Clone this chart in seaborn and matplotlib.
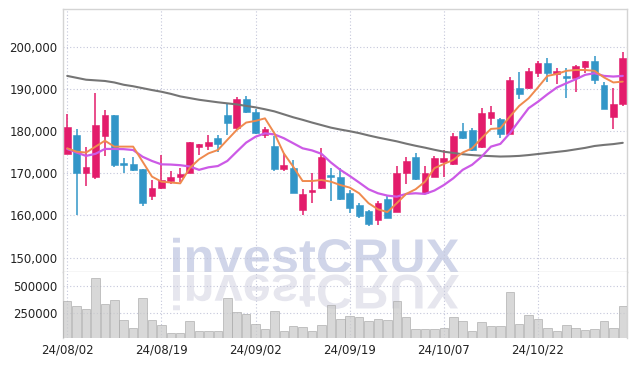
import numpy as np
import matplotlib
matplotlib.use("Agg")
import matplotlib.pyplot as plt
import seaborn as sns
from matplotlib.textpath import TextPath
from matplotlib.patches import PathPatch
from matplotlib.font_manager import FontProperties
from matplotlib.transforms import Affine2D

# daily candles, 24/08/02 .. 24/11/04 (60 trading days)
opens = [174500, 179000, 170100, 169000, 178700, 183800, 172400, 172200, 171000, 164700,
         166600, 168200, 169000, 170100, 176300, 176500, 178300, 183800, 180600, 187600,
         184400, 179000, 176400, 171000, 171200, 161300, 165500, 166400, 169600, 169100,
         165400, 162500, 161100, 158900, 164000, 160900, 170000, 173900, 165400, 169200,
         172700, 172100, 180000, 180200, 176300, 183000, 182800, 179400, 190300, 190300,
         193700, 196200, 193600, 193000, 192600, 195200, 196600, 190900, 183400, 186400]
highs = [184000, 180400, 176300, 189100, 185000, 183800, 173500, 173800, 171000, 168400,
         174200, 170600, 171200, 177500, 176900, 179100, 179000, 186300, 188000, 188400,
         185200, 181000, 178800, 174800, 173100, 166300, 170000, 175900, 171200, 171200,
         166000, 163000, 161300, 163400, 164700, 171800, 173900, 174800, 171600, 174100,
         175500, 179500, 182000, 180800, 185400, 185900, 183000, 192700, 193900, 194900,
         196600, 197300, 194900, 194900, 195600, 196600, 197800, 191700, 190300, 198800]
lows = [174500, 160000, 167000, 168600, 174100, 171500, 170000, 170600, 162200, 163600,
        166200, 167400, 168000, 170000, 174200, 175500, 175100, 179000, 180200, 184200,
        179400, 178300, 170600, 170600, 165300, 160100, 162900, 166300, 163400, 163700,
        160500, 159300, 157600, 157700, 159300, 160800, 167500, 168400, 165200, 169000,
        169000, 171900, 178000, 175300, 175900, 181400, 178400, 179200, 187600, 189900,
        192700, 191500, 191100, 187700, 189200, 193800, 191100, 185100, 180400, 185900]
closes = [181000, 170000, 171500, 181500, 183800, 172000, 172000, 170800, 163000, 166500,
          168400, 169100, 169900, 177400, 176900, 177400, 176900, 182000, 187600, 184400,
          179600, 180400, 171000, 171900, 165300, 165100, 166000, 173900, 169000, 163900,
          161700, 159900, 158000, 162900, 159500, 170000, 172800, 168700, 170000, 173500,
          173500, 178800, 178400, 175500, 184200, 184400, 179400, 192100, 188700, 194200,
          196200, 193700, 194100, 192600, 195400, 196600, 192100, 185200, 186500, 197400]
volumes = [362600, 316800, 289400, 570500, 335000, 369000, 195000, 121800, 387400, 195000,
           149200, 76000, 76000, 185900, 87900, 94300, 87900, 387400, 261900, 243600,
           158400, 112600, 268300, 87900, 140100, 131000, 87900, 149200, 326000, 204200,
           225300, 213400, 179500, 204200, 188600, 362600, 213400, 106200, 112600, 112600,
           121800, 213400, 179500, 94300, 176500, 140100, 140100, 442300, 158400, 234400,
           204200, 121800, 94300, 149200, 121800, 103500, 112600, 185900, 121800, 316800]

# moving averages
ma_short = [175900, 175100, 174900, 176300, 177700, 176300, 176300, 176300, 172750, 169200,
            168000, 167800, 167600, 171200, 173300, 174700, 175500, 177900, 180250, 182000,
            182400, 183000, 179450, 174700, 171550, 168150, 168150, 168400, 168000, 167200,
            166600, 165250, 162900, 161450, 160800, 162900, 165100, 166200, 168000, 171200,
            172200, 173150, 174900, 175900, 178300, 180500, 180650, 183400, 185950, 187750,
            190350, 193050, 193500, 194250, 194450, 194450, 194250, 192700, 191500, 191700]
ma_mid = [175750, 174900, 174100, 174600, 175750, 175750, 175700, 175500, 173900, 172900,
          172100, 172050, 171900, 171600, 170800, 171400, 171700, 172900, 175100, 177250,
          178650, 179450, 179200, 178300, 177100, 175900, 175400, 174600, 172550, 170800,
          169350, 167800, 166200, 165250, 164700, 164450, 165100, 165250, 165100, 165900,
          167200, 168800, 170800, 172000, 173900, 176300, 176950, 179450, 182450, 185400,
          186950, 188700, 190300, 191300, 192250, 193300, 193700, 193050, 192900, 193050]
ma_long = [193050, 192600, 192150, 192000, 191850, 191500, 190950, 190600, 190150, 189700,
           189300, 188800, 188200, 187800, 187400, 187100, 186800, 186550, 186300, 185950,
           185600, 185150, 184650, 183950, 183250, 182650, 182000, 181400, 180800, 180350,
           179950, 179500, 178950, 178450, 178000, 177550, 177000, 176500, 176050, 175550,
           175100, 174800, 174500, 174300, 174150, 174050, 173950, 174000, 174100, 174300,
           174550, 174800, 175050, 175300, 175650, 176000, 176450, 176700, 176900, 177200]

date_ticks = [0, 10, 20, 30, 40, 50]
date_labels = ["24/08/02", "24/08/19", "24/09/02", "24/09/19", "24/10/07", "24/10/22"]
price_ticks = [150000, 160000, 170000, 180000, 190000, 200000]
vol_ticks = [250000, 500000]

UP = "#e31c6b"
DOWN = "#3296c8"
GRID = "#c4c6da"

sns.set_style("white")
plt.rcParams["font.family"] = ["DejaVu Sans"]

fig = plt.figure(figsize=(6.36, 3.66), dpi=100)
ax = fig.add_axes([63 / 636, 94 / 366, 564 / 636, 263 / 366])
axv = fig.add_axes([63 / 636, 28 / 366, 564 / 636, 66 / 366], sharex=ax)

idx = np.arange(len(opens))

# watermark and its reflection
fp = FontProperties(family="Liberation Sans", weight="bold")
tp = TextPath((0, 0), "investCRUX", size=100, prop=fp)
bb = tp.get_extents()
s = 286 / bb.width
x0 = 173 - bb.x0 * s
base = 366 - 273
wm = PathPatch(tp, facecolor="#d0d5e9", edgecolor="none", zorder=0.5, clip_on=False)
wm.set_transform(Affine2D().scale(s, s * 0.96).translate(x0, base))
ax.add_patch(wm)
rf = PathPatch(tp, facecolor="#e6e6ee", edgecolor="none", zorder=0.5)
rf.set_transform(Affine2D().scale(s, -s * 0.96).translate(x0, base - 2))
axv.add_patch(rf)

# candles
for i in idx:
    o, h, l, c = opens[i], highs[i], lows[i], closes[i]
    col = UP if c >= o else DOWN
    ax.vlines(i, l, h, color=col, linewidth=1.1, zorder=3)
    lo, hi = min(o, c), max(o, c)
    ax.bar(i, max(hi - lo, 300), bottom=lo, width=0.72, color=col,
           edgecolor=col, linewidth=0.4, zorder=4)

sns.lineplot(x=idx, y=ma_long, ax=ax, color="#757575", linewidth=1.5, zorder=5)
sns.lineplot(x=idx, y=ma_mid, ax=ax, color="#cc5ae6", linewidth=1.6, zorder=5)
sns.lineplot(x=idx, y=ma_short, ax=ax, color="#ef8a4e", linewidth=1.4, zorder=6)

sns.barplot(x=idx, y=volumes, ax=axv, native_scale=True, color="#cbcbcb", alpha=0.75,
            width=0.9, edgecolor="#a9a9a9", linewidth=0.6, saturation=1,
            errorbar=None, zorder=3)

ax.set_xlim(-0.45, 59.45)
ax.set_ylim(146600, 208900)
axv.set_ylim(26500, 628000)

ax.set_yticks(price_ticks)
ax.set_yticklabels([f"{p:,}" for p in price_ticks])
axv.set_yticks(vol_ticks)
axv.set_yticklabels([str(v) for v in vol_ticks])
axv.set_xticks(date_ticks)
axv.set_xticklabels(date_labels)
plt.setp(ax.get_xticklabels(), visible=False)

for a in (ax, axv):
    a.grid(True, linestyle=(0, (1, 2)), color=GRID, linewidth=0.8)
    a.set_axisbelow(True)
    a.tick_params(length=0, labelsize=8.5, labelcolor="#222222", pad=4)
    a.set_xlabel("")
    a.set_ylabel("")
    for sp in a.spines.values():
        sp.set_color("#d4d4d4")
        sp.set_linewidth(1)
axv.spines["bottom"].set_visible(False)
axv.spines["top"].set_visible(False)

fig.savefig("out.png", dpi=100)
